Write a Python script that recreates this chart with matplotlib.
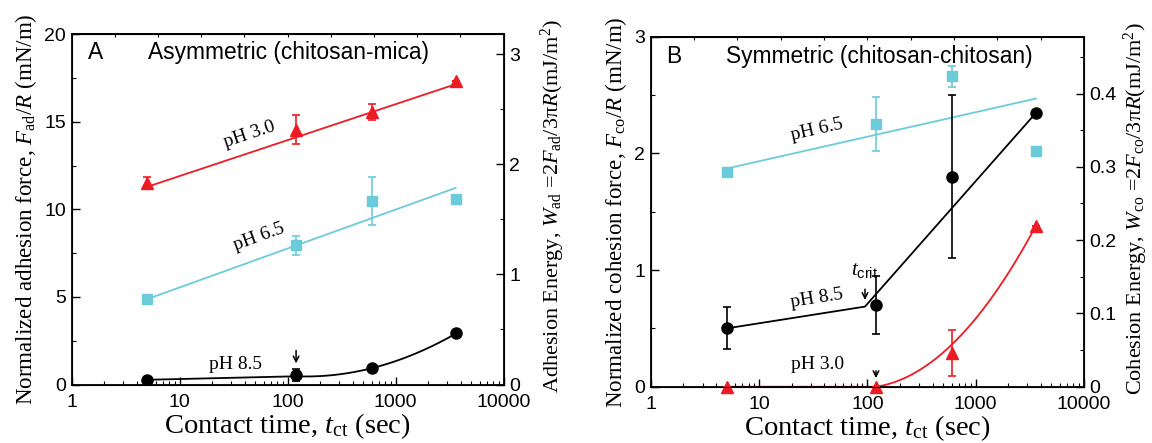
import numpy as np
import matplotlib
matplotlib.use('Agg')
import matplotlib.pyplot as plt
from matplotlib.ticker import MultipleLocator, FixedLocator, NullFormatter, NullLocator

plt.rcParams['font.family'] = ['Liberation Sans', 'DejaVu Sans']
plt.rcParams['mathtext.fontset'] = 'custom'
plt.rcParams['mathtext.rm'] = 'Liberation Serif'
plt.rcParams['mathtext.it'] = 'Liberation Serif:italic'
plt.rcParams['mathtext.sf'] = 'Liberation Sans'

# ---------------- data ----------------
t = [5, 120, 600, 3600]

# Panel A: asymmetric (chitosan-mica), F_ad/R (mN/m)
a_ph30 = [11.5, 14.55, 15.55, 17.3]
a_ph30_err = [0.33, 0.83, 0.48, 0.0]
a_ph65 = [4.87, 7.94, 10.46, 10.6]
a_ph65_err = [0.0, 0.56, 1.36, 0.0]
a_ph85 = [0.27, 0.54, 0.92, 2.92]
a_ph85_err = [0.0, 0.35, 0.0, 0.0]
fit_t = [5, 3600]
a_fit30 = [11.28, 17.14]
a_fit65 = [4.87, 11.22]
a_fit85_t = [5, 120, 600, 3600]
a_fit85 = [0.27, 0.47, 0.93, 2.9]

# Panel B: symmetric (chitosan-chitosan), F_co/R (mN/m)
b_ph65 = [1.84, 2.25, 2.66, 2.02]
b_ph65_err = [0.0, 0.23, 0.093, 0.0]
b_ph85 = [0.5, 0.70, 1.8, 2.35]
b_ph85_err = [0.18, 0.25, 0.70, 0.0]
b_ph30 = [0.0, 0.0, 0.29, 1.38]
b_ph30_err = [0.0, 0.0, 0.2, 0.0]
b_fit65 = [1.87, 2.47]
b_fit85_t = [5, 95, 3600]
b_fit85 = [0.5, 0.687, 2.347]
b_fit30_t = [5, 120, 600, 3600]
b_fit30 = [0.0, 0.0, 0.36, 1.38]

t_crit = 95

RED = '#ed1c24'
CYAN = '#6ccbdb'
BLACK = 'black'

SERIF = 'Liberation Serif'
TICK = 14
YLAB = 16.6
RLAB = 16.0
XLAB = 20.5

fig = plt.figure(figsize=(11.52, 4.43), dpi=100)
axA = fig.add_axes([0.0621, 0.132, 0.375, 0.791])
axB = fig.add_axes([0.565, 0.127, 0.3759, 0.790])


def smooth_curve(tk, yk, start_idx):
    """piecewise: straight (log-x) before start_idx knot, quadratic (log-x) after"""
    lx = np.log10(tk)
    xs, ys = [], []
    for i in range(start_idx):
        seg = np.linspace(lx[i], lx[i + 1], 20)
        xs.append(seg)
        ys.append(np.interp(seg, lx[i:i + 2], yk[i:i + 2]))
    c = np.polyfit(lx[start_idx:], yk[start_idx:], 2)
    seg = np.linspace(lx[start_idx], lx[-1], 80)
    xs.append(seg)
    ys.append(np.polyval(c, seg))
    return 10 ** np.concatenate(xs), np.concatenate(ys)


def style_axes(ax, ymax, ymajor, yminor, rmax, rmajor, rminor):
    ax.set_xscale('log')
    ax.set_xlim(1, 10000)
    ax.set_ylim(0, ymax)
    ax.yaxis.set_major_locator(MultipleLocator(ymajor))
    ax.yaxis.set_minor_locator(MultipleLocator(yminor))
    ax.xaxis.set_major_locator(FixedLocator([1, 10, 100, 1000, 10000]))
    ax.xaxis.set_major_formatter(matplotlib.ticker.FuncFormatter(lambda v, p: '%d' % v))
    ax.xaxis.set_minor_locator(matplotlib.ticker.LogLocator(base=10, subs=np.arange(2, 10)))
    ax.xaxis.set_minor_formatter(NullFormatter())
    ax.tick_params(axis='both', which='both', direction='in', top=False, right=False,
                   labelsize=TICK)
    ax.tick_params(which='major', length=6, width=1)
    ax.tick_params(which='minor', length=3, width=0.8)
    ax.tick_params(axis='x', pad=7)
    ax.tick_params(axis='y', pad=4)
    for s in ax.spines.values():
        s.set_linewidth(1.3)
    sec = ax.secondary_xaxis('top', functions=(np.log10, lambda v: 10 ** v))
    sec.xaxis.set_major_locator(FixedLocator(np.arange(0, 4.01, 0.4)))
    sec.xaxis.set_minor_locator(NullLocator())
    sec.tick_params(direction='in', length=2, width=0.8, labeltop=False)
    sec.spines['top'].set_linewidth(1.3)
    r = ax.twinx()
    r.set_ylim(0, rmax)
    r.yaxis.set_major_locator(MultipleLocator(rmajor))
    r.yaxis.set_minor_locator(MultipleLocator(rminor))
    r.yaxis.set_major_formatter(matplotlib.ticker.FuncFormatter(lambda v, p: '%g' % round(v, 3)))
    r.tick_params(axis='y', which='both', direction='in', labelsize=TICK, pad=4)
    r.tick_params(which='major', length=6, width=1)
    r.tick_params(which='minor', length=3, width=0.8)
    return r


def rot_label(ax, x0, y0, x1, y1, xt, yt, s, size=14):
    p0 = ax.transData.transform((x0, y0))
    p1 = ax.transData.transform((x1, y1))
    ang = np.degrees(np.arctan2(p1[1] - p0[1], p1[0] - p0[0]))
    ax.text(xt, yt, s, rotation=ang, rotation_mode='anchor', ha='center', va='center',
            fontsize=size, family=SERIF)


# ---------------- Panel A ----------------
rA = style_axes(axA, 20, 5, 2.5, 20 / (2 * np.pi), 1, 0.5)
axA.plot(fit_t, a_fit30, color=RED, lw=1.3)
axA.plot(fit_t, a_fit65, color=CYAN, lw=1.3)
cx, cy = smooth_curve(a_fit85_t, a_fit85, 1)
axA.plot(cx, cy, color=BLACK, lw=1.3)
axA.errorbar(t, a_ph30, yerr=a_ph30_err, fmt='^', color=RED, ms=9, capsize=3, elinewidth=1.2, capthick=1.2)
axA.errorbar(t, a_ph65, yerr=a_ph65_err, fmt='s', color=CYAN, ms=7, capsize=3, elinewidth=1.2, capthick=1.2)
axA.errorbar(t, a_ph85, yerr=a_ph85_err, fmt='o', color=BLACK, ms=8, capsize=3, elinewidth=1.2, capthick=1.2)
axA.annotate('', xy=(120, 1.05), xytext=(120, 2.1),
             arrowprops=dict(arrowstyle='->', lw=1.1, color='black'))
axA.text(1.42, 18.95, 'A', fontsize=16.4, ha='left', va='center')
axA.text(5.1, 18.95, 'Asymmetric (chitosan-mica)', fontsize=16.4, ha='left', va='center')
rot_label(axA, fit_t[0], a_fit30[0], fit_t[1], a_fit30[1], 44, 14.25, 'pH 3.0')
rot_label(axA, fit_t[0], a_fit65[0], fit_t[1], a_fit65[1], 55, 8.4, 'pH 6.5')
axA.text(33, 1.15, 'pH 8.5', fontsize=14, family=SERIF, ha='center', va='center')
axA.set_xlabel('Contact time, $t_{\\rm ct}$ (sec)', fontsize=XLAB, family=SERIF, labelpad=0)
axA.set_ylabel('Normalized adhesion force, $F_{\\rm ad}/R$ (mN/m)', fontsize=YLAB,
               family=SERIF, labelpad=4)
rA.set_ylabel('Adhesion Energy, $W_{\\rm ad}$ =2$F_{\\rm ad}$/3π$R$(mJ/m$^2$)', fontsize=RLAB,
              family=SERIF)
rA.yaxis.set_label_coords(1.082, 0.51)

# ---------------- Panel B ----------------
rB = style_axes(axB, 3, 1, 0.5, 3 / (2 * np.pi), 0.1, 0.05)
axB.plot(fit_t, b_fit65, color=CYAN, lw=1.3)
axB.plot(b_fit85_t, b_fit85, color=BLACK, lw=1.3)
cx, cy = smooth_curve(b_fit30_t, b_fit30, 1)
axB.plot(cx, cy, color=RED, lw=1.3)
axB.errorbar(t, b_ph65, yerr=b_ph65_err, fmt='s', color=CYAN, ms=7, capsize=3, elinewidth=1.2, capthick=1.2)
axB.errorbar(t, b_ph85, yerr=b_ph85_err, fmt='o', color=BLACK, ms=8, capsize=3, elinewidth=1.2, capthick=1.2)
axB.errorbar(t, b_ph30, yerr=b_ph30_err, fmt='^', color=RED, ms=9, capsize=3, elinewidth=1.2,
             capthick=1.2, clip_on=False, zorder=5)
axB.annotate('', xy=(t_crit, 0.72), xytext=(t_crit, 0.86),
             arrowprops=dict(arrowstyle='->', lw=1.1, color='black'))
axB.annotate('', xy=(120, 0.05), xytext=(120, 0.16),
             arrowprops=dict(arrowstyle='->', lw=1.1, color='black'))
axB.text(70, 1.0, '$t_{\\mathsf{crit}}$', fontsize=15, ha='left', va='center')
axB.text(1.37, 2.83, 'B', fontsize=16.4, ha='left', va='center')
axB.text(4.9, 2.83, 'Symmetric (chitosan-chitosan)', fontsize=16.4, ha='left', va='center')
rot_label(axB, fit_t[0], b_fit65[0], fit_t[1], b_fit65[1], 34, 2.2, 'pH 6.5')
rot_label(axB, b_fit85_t[0], b_fit85[0], b_fit85_t[1], b_fit85[1], 34, 0.76, 'pH 8.5')
axB.text(35, 0.19, 'pH 3.0', fontsize=14, family=SERIF, ha='center', va='center')
axB.set_xlabel('Contact time, $t_{\\rm ct}$ (sec)', fontsize=XLAB, family=SERIF, labelpad=0)
axB.set_ylabel('Normalized cohesion force, $F_{\\rm co}/R$ (mN/m)', fontsize=YLAB,
               family=SERIF, labelpad=4)
rB.set_ylabel('Cohesion Energy, $W_{\\rm co}$ =2$F_{\\rm co}$/3π$R$(mJ/m$^2$)', fontsize=RLAB,
              family=SERIF)
rB.yaxis.set_label_coords(1.088, 0.51)

fig.savefig('out.png', dpi=100)
